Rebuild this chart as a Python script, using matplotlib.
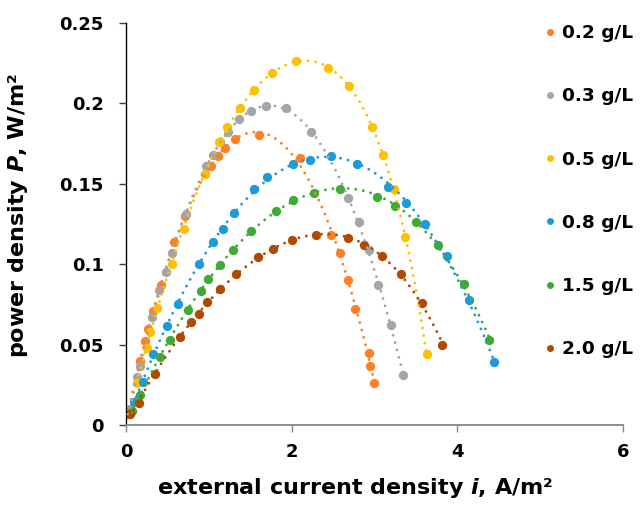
import numpy as np
import matplotlib
matplotlib.use('Agg')
import matplotlib.pyplot as plt
from matplotlib.lines import Line2D

plt.rcParams['font.family'] = 'DejaVu Sans'
plt.rcParams['font.weight'] = 'bold'
plt.rcParams['axes.labelweight'] = 'bold'
plt.rcParams['mathtext.fontset'] = 'custom'
plt.rcParams['mathtext.it'] = 'DejaVu Sans:italic:bold'
plt.rcParams['mathtext.rm'] = 'DejaVu Sans:bold'

# ---- data (current density A/m2, power density W/m2) ----
labels = ['0.2 g/L', '0.3 g/L', '0.5 g/L', '0.8 g/L', '1.5 g/L', '2.0 g/L']
colors = ['#FF7F27', '#A5A5A5', '#FFC000', '#1E9BD7', '#3FAA35', '#B04A00']

i_02 = [0.02, 0.17, 0.23, 0.27, 0.32, 0.42, 0.58, 0.71, 0.95, 1.03, 1.11, 1.20, 1.32,
        1.61, 2.10, 2.48, 2.58, 2.68, 2.77, 2.93, 2.95, 3.00]
p_02 = [0.007, 0.040, 0.052, 0.060, 0.071, 0.087, 0.114, 0.130, 0.156, 0.161, 0.167,
        0.172, 0.178, 0.180, 0.166, 0.118, 0.107, 0.090, 0.072, 0.045, 0.037, 0.026]

i_03 = [0.05, 0.13, 0.17, 0.31, 0.40, 0.48, 0.56, 0.72, 0.96, 1.05, 1.14, 1.23, 1.36,
        1.51, 1.69, 1.93, 2.24, 2.68, 2.81, 2.93, 3.04, 3.20, 3.35]
p_03 = [0.010, 0.030, 0.037, 0.067, 0.084, 0.095, 0.107, 0.131, 0.161, 0.168, 0.176,
        0.182, 0.190, 0.195, 0.198, 0.197, 0.182, 0.141, 0.126, 0.109, 0.087, 0.062, 0.031]

i_05 = [0.13, 0.25, 0.29, 0.37, 0.55, 0.70, 0.95, 1.12, 1.22, 1.38, 1.55, 1.76, 2.05,
        2.44, 2.69, 2.97, 3.10, 3.24, 3.37, 3.63]
p_05 = [0.026, 0.048, 0.058, 0.073, 0.100, 0.122, 0.156, 0.176, 0.185, 0.197, 0.208,
        0.219, 0.226, 0.222, 0.211, 0.185, 0.168, 0.147, 0.117, 0.044]

i_08 = [0.09, 0.20, 0.33, 0.50, 0.63, 0.88, 1.05, 1.17, 1.30, 1.55, 1.70, 2.02, 2.22,
        2.48, 2.79, 3.17, 3.38, 3.61, 3.88, 4.14, 4.44]
p_08 = [0.0145, 0.027, 0.044, 0.0615, 0.0755, 0.100, 0.114, 0.122, 0.132, 0.147, 0.154,
        0.162, 0.165, 0.167, 0.162, 0.148, 0.138, 0.125, 0.105, 0.078, 0.039]

i_15 = [0.07, 0.17, 0.41, 0.53, 0.75, 0.90, 0.99, 1.13, 1.29, 1.51, 1.81, 2.02, 2.27,
        2.59, 3.03, 3.25, 3.50, 3.77, 4.08, 4.39]
p_15 = [0.0087, 0.0186, 0.0424, 0.0528, 0.0714, 0.0834, 0.091, 0.0998, 0.109, 0.1205,
        0.133, 0.140, 0.144, 0.147, 0.142, 0.136, 0.126, 0.112, 0.088, 0.053]

i_20 = [0.05, 0.16, 0.35, 0.65, 0.79, 0.88, 0.98, 1.13, 1.33, 1.59, 1.78, 2.01, 2.30,
        2.68, 2.87, 3.09, 3.32, 3.58, 3.82]
p_20 = [0.0072, 0.014, 0.032, 0.0549, 0.0642, 0.0693, 0.0766, 0.0843, 0.0938, 0.1045,
        0.1097, 0.1153, 0.118, 0.116, 0.1118, 0.1052, 0.0938, 0.0762, 0.050]

series_i = [i_02, i_03, i_05, i_08, i_15, i_20]
series_p = [p_02, p_03, p_05, p_08, p_15, p_20]
trend_order = [4, 4, 5, 4, 4, 4]

fig = plt.figure(figsize=(6.4, 5.05), dpi=100)
ax = fig.add_axes([0.197, 0.158, 0.776, 0.797])

for x, y, c, k in zip(series_i, series_p, colors, trend_order):
    x = np.array(x)
    y = np.array(y)
    ax.plot(x, y, 'o', color=c, markersize=6.7, markeredgewidth=0, zorder=2)
    # excel-style polynomial trendline
    coef = np.polyfit(x, y, k)
    xf = np.linspace(x.min(), x.max(), 200)
    ax.plot(xf, np.polyval(coef, xf), color=c, lw=2.1,
            linestyle=(0, (0.01, 2.6)), dash_capstyle='round', zorder=3)

ax.set_xlim(0, 6)
ax.set_ylim(0, 0.25)
ax.set_xticks([0, 2, 4, 6])
ax.set_yticks([0, 0.05, 0.1, 0.15, 0.2, 0.25])
ax.set_yticklabels(['0', '0.05', '0.1', '0.15', '0.2', '0.25'])
ax.tick_params(labelsize=13, length=5, width=1, pad=8, colors='black')
ax.tick_params(axis='y', pad=11)
ax.tick_params(axis='x', color='#868686')
ax.tick_params(axis='y', color='#404040')
ax.spines['top'].set_visible(False)
ax.spines['right'].set_visible(False)
ax.spines['left'].set_color('black')
ax.spines['left'].set_linewidth(1)
ax.spines['bottom'].set_color('#868686')
ax.spines['bottom'].set_linewidth(1.3)

ax.set_xlabel('external current density $i$, A/m²', fontsize=16)
ax.set_ylabel('power density $P$, W/m²', fontsize=16)
ax.xaxis.set_label_coords(0.462, -0.125)
ax.yaxis.set_label_coords(-0.193, 0.52)

handles = [Line2D([], [], marker='o', ls='none', color=c, markersize=5, markeredgewidth=0)
           for c in colors]
ax.legend(handles, labels, loc='upper left', bbox_to_anchor=(0.82, 1.015), frameon=False,
          fontsize=13.3, labelspacing=2.45, handletextpad=0.15, handlelength=1.0,
          borderaxespad=0)

plt.savefig('out.png')
plt.close()
